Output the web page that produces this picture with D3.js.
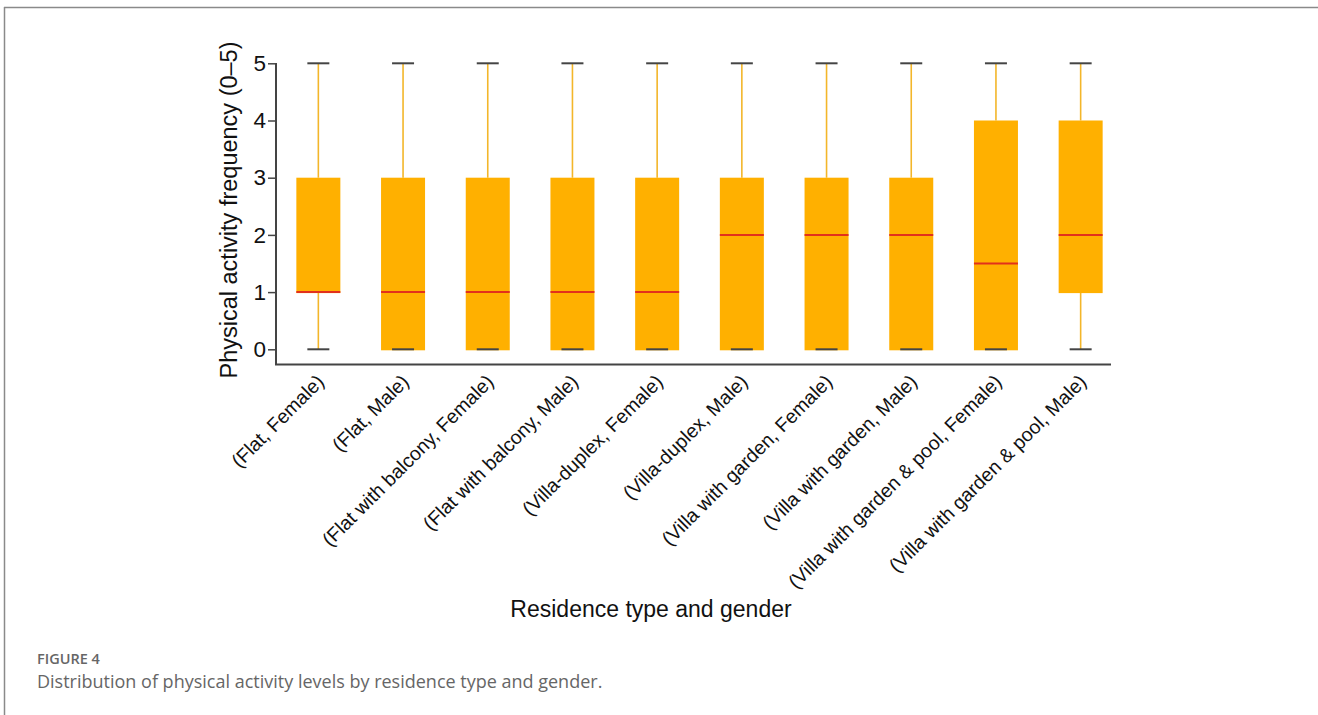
<!DOCTYPE html>
<html>
<head>
<meta charset="utf-8">
<script src="https://cdn.jsdelivr.net/npm/d3@7"></script>
<style>
  html, body { margin: 0; padding: 0; background: #fff; }
  svg { display: block; }
</style>
</head>
<body>
<svg id="chart" width="1318" height="715"></svg>
<script>
const categories = [
  "(Flat, Female)", "(Flat, Male)", "(Flat with balcony, Female)", "(Flat with balcony, Male)",
  "(Villa-duplex, Female)", "(Villa-duplex, Male)", "(Villa with garden, Female)",
  "(Villa with garden, Male)", "(Villa with garden & pool, Female)", "(Villa with garden & pool, Male)"
];
const mins    = [0, 0, 0, 0, 0, 0, 0, 0, 0, 0];
const q1s     = [1, 0, 0, 0, 0, 0, 0, 0, 0, 1];
const medians = [1, 1, 1, 1, 1, 2, 2, 2, 1.5, 2];
const q3s     = [3, 3, 3, 3, 3, 3, 3, 3, 4, 4];
const maxs    = [5, 5, 5, 5, 5, 5, 5, 5, 5, 5];
const yTicks  = [0, 1, 2, 3, 4, 5];

const svg = d3.select("#chart");

// figure frame (top and left rules)
svg.append("line").attr("x1", 4).attr("x2", 1318).attr("y1", 7.5).attr("y2", 7.5)
  .attr("stroke", "#8a8a8a").attr("stroke-width", 1.5);
svg.append("line").attr("x1", 4.5).attr("x2", 4.5).attr("y1", 7).attr("y2", 715)
  .attr("stroke", "#8a8a8a").attr("stroke-width", 1.5);

const x = d3.scaleBand().domain(categories).range([276, 1123]).paddingInner(0).paddingOuter(0);
const y = d3.scaleLinear().domain([0, 5]).range([349.3, 63.3]);

const data = categories.map((c, i) => ({
  c, min: mins[i], q1: q1s[i], med: medians[i], q3: q3s[i], max: maxs[i]
}));

const boxW = 44, capW = 22;
const g = svg.append("g");

data.forEach(d => {
  const cx = x(d.c) + x.bandwidth() / 2;
  // whiskers
  g.append("line").attr("x1", cx).attr("x2", cx).attr("y1", y(d.max)).attr("y2", y(d.q3))
    .attr("stroke", "#F3B62A").attr("stroke-width", 1.6);
  g.append("line").attr("x1", cx).attr("x2", cx).attr("y1", y(d.q1)).attr("y2", y(d.min))
    .attr("stroke", "#F3B62A").attr("stroke-width", 1.6);
  // box
  g.append("rect").attr("x", cx - boxW / 2).attr("width", boxW)
    .attr("y", y(d.q3)).attr("height", y(d.q1) - y(d.q3) + 1)
    .attr("fill", "#FFB000");
  // median
  g.append("line").attr("x1", cx - boxW / 2).attr("x2", cx + boxW / 2)
    .attr("y1", y(d.med)).attr("y2", y(d.med))
    .attr("stroke", "#E2301C").attr("stroke-width", 2);
  // caps
  [d.min, d.max].forEach(v => {
    g.append("line").attr("x1", cx - capW / 2).attr("x2", cx + capW / 2)
      .attr("y1", y(v)).attr("y2", y(v))
      .attr("stroke", "#444").attr("stroke-width", 2);
  });
});

// y axis
const yAxis = d3.axisLeft(y).tickValues(yTicks).tickSize(8).tickFormat(d3.format("d"));
const ya = svg.append("g").attr("transform", "translate(276,0)").call(yAxis);
ya.select(".domain").remove();
ya.append("line").attr("x1", 0).attr("x2", 0).attr("y1", 63).attr("y2", 365)
  .attr("stroke", "#444").attr("stroke-width", 2);
ya.selectAll(".tick line").attr("stroke", "#444").attr("stroke-width", 1.5);
ya.selectAll(".tick text").attr("font-family", "Liberation Sans, Arial, sans-serif")
  .attr("font-size", 22.5).attr("fill", "#111").attr("x", -10);

// x axis line
svg.append("line").attr("x1", 275).attr("x2", 1111).attr("y1", 364.5).attr("y2", 364.5)
  .attr("stroke", "#444").attr("stroke-width", 2);

// x tick labels
const xa = svg.append("g");
data.forEach(d => {
  const cx = x(d.c) + x.bandwidth() / 2;
  xa.append("text")
    .attr("transform", `translate(${cx + 7},${383}) rotate(-45)`)
    .attr("text-anchor", "end")
    .attr("font-family", "Liberation Sans, Arial, sans-serif")
    .attr("font-size", 19.5).attr("fill", "#111")
    .text(d.c);
});

// axis titles
svg.append("text")
  .attr("transform", "translate(237,210) rotate(-90)")
  .attr("text-anchor", "middle")
  .attr("font-family", "Liberation Sans, Arial, sans-serif")
  .attr("font-size", 23.5).attr("fill", "#111")
  .text("Physical activity frequency (0\u20135)");

svg.append("text")
  .attr("x", 651).attr("y", 617)
  .attr("text-anchor", "middle")
  .attr("font-family", "Liberation Sans, Arial, sans-serif")
  .attr("font-size", 23).attr("fill", "#111")
  .text("Residence type and gender");

// caption
svg.append("text").attr("x", 37).attr("y", 664)
  .attr("font-family", "Open Sans, sans-serif").attr("font-size", 14.5)
  .attr("font-weight", 600)
  .attr("fill", "#666").text("FIGURE 4");
svg.append("text").attr("x", 37).attr("y", 688)
  .attr("font-family", "Open Sans, sans-serif").attr("font-size", 18)
  .attr("fill", "#666").text("Distribution of physical activity levels by residence type and gender.");
</script>
</body>
</html>
